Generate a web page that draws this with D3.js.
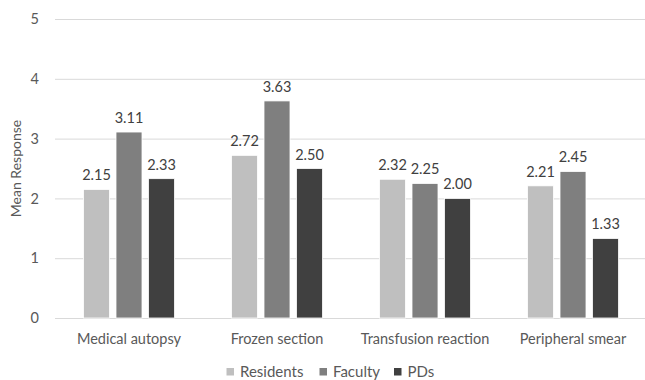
<!DOCTYPE html>
<html>
<head>
<meta charset="utf-8">
<script src="https://cdn.jsdelivr.net/npm/d3@7"></script>
<style>
  html, body { margin: 0; padding: 0; background: #fff; }
  svg { display: block; font-family: Lato, "Open Sans", sans-serif; }
</style>
</head>
<body>
<svg id="chart" width="645" height="380"></svg>
<script>
// Mean response per procedure, by respondent group
const categories = ["Medical autopsy", "Frozen section", "Transfusion reaction", "Peripheral smear"];
const seriesNames = ["Residents", "Faculty", "PDs"];
const residents = [2.15, 2.72, 2.32, 2.21];
const faculty = [3.11, 3.63, 2.25, 2.45];
const pds = [2.33, 2.50, 2.00, 1.33];
const yTicks = [0, 1, 2, 3, 4, 5];
const colors = ["#bfbfbf", "#7f7f7f", "#404040"];

const seriesValues = [residents, faculty, pds];
const rows = categories.map((c, i) => ({
  category: c,
  values: seriesNames.map((s, j) => ({ series: s, value: seriesValues[j][i] }))
}));

const svg = d3.select("#chart");
const plot = { left: 55, right: 647, top: 19, bottom: 318 };

const x0 = d3.scaleBand().domain(categories).range([plot.left, plot.right]).padding(0);
const groupWidth = 91;
const x1 = d3.scaleBand().domain(seriesNames)
  .range([-groupWidth / 2, groupWidth / 2]).paddingInner(0.2).paddingOuter(0);
const y = d3.scaleLinear().domain([0, 5]).range([plot.bottom, plot.top]);
const color = d3.scaleOrdinal().domain(seriesNames).range(colors);

// Horizontal gridlines with value ticks
const yAxis = d3.axisLeft(y).tickValues(yTicks).tickFormat(d3.format("d"))
  .tickSize(-(plot.right - plot.left)).tickPadding(16);
const gy = svg.append("g").attr("transform", `translate(${plot.left},0)`).call(yAxis);
gy.select(".domain").remove();
gy.selectAll(".tick line").attr("stroke", "#d9d9d9").attr("stroke-width", 1);
gy.selectAll(".tick text").attr("fill", "#595959").style("font-size", "14.5px")
  .style("font-family", "Lato, 'Open Sans', sans-serif");

// Bars
const groups = svg.append("g").selectAll("g").data(rows).join("g")
  .attr("transform", d => `translate(${x0(d.category) + x0.bandwidth() / 2},0)`);

groups.selectAll("rect").data(d => d.values).join("rect")
  .attr("x", d => x1(d.series))
  .attr("y", d => y(d.value))
  .attr("width", x1.bandwidth())
  .attr("height", d => y(0) - y(d.value))
  .attr("fill", d => color(d.series))
  .attr("stroke", "#ffffff")
  .attr("stroke-width", 0.8);

// Value labels
groups.selectAll("text").data(d => d.values).join("text")
  .attr("x", d => x1(d.series) + x1.bandwidth() / 2)
  .attr("y", d => y(d.value) - 9)
  .attr("text-anchor", "middle")
  .attr("fill", "#404040")
  .style("font-size", "14.5px")
  .text(d => d.value.toFixed(2));

// Category axis labels
const xAxis = d3.axisBottom(x0).tickSize(0).tickPadding(16);
const gx = svg.append("g").attr("transform", `translate(0,${plot.bottom})`).call(xAxis);
gx.select(".domain").remove();
gx.selectAll(".tick text").attr("fill", "#595959").style("font-size", "14.5px")
  .style("font-family", "Lato, 'Open Sans', sans-serif");

// Y axis title
svg.append("text")
  .attr("transform", `translate(21,${(plot.top + plot.bottom) / 2}) rotate(-90)`)
  .attr("text-anchor", "middle")
  .attr("fill", "#595959")
  .style("font-size", "14px")
  .text("Mean Response");

// Legend
const legendX = [226.5, 319.5, 394];
const legend = svg.append("g").selectAll("g").data(seriesNames).join("g")
  .attr("transform", (d, i) => `translate(${legendX[i]},372)`);
legend.append("rect").attr("x", 0).attr("y", -4).attr("width", 7.5).attr("height", 7.5)
  .attr("fill", d => color(d));
legend.append("text").attr("x", 13.5).attr("y", 0).attr("dy", "0.35em")
  .attr("fill", "#595959").style("font-size", "15px").text(d => d);
</script>
</body>
</html>
